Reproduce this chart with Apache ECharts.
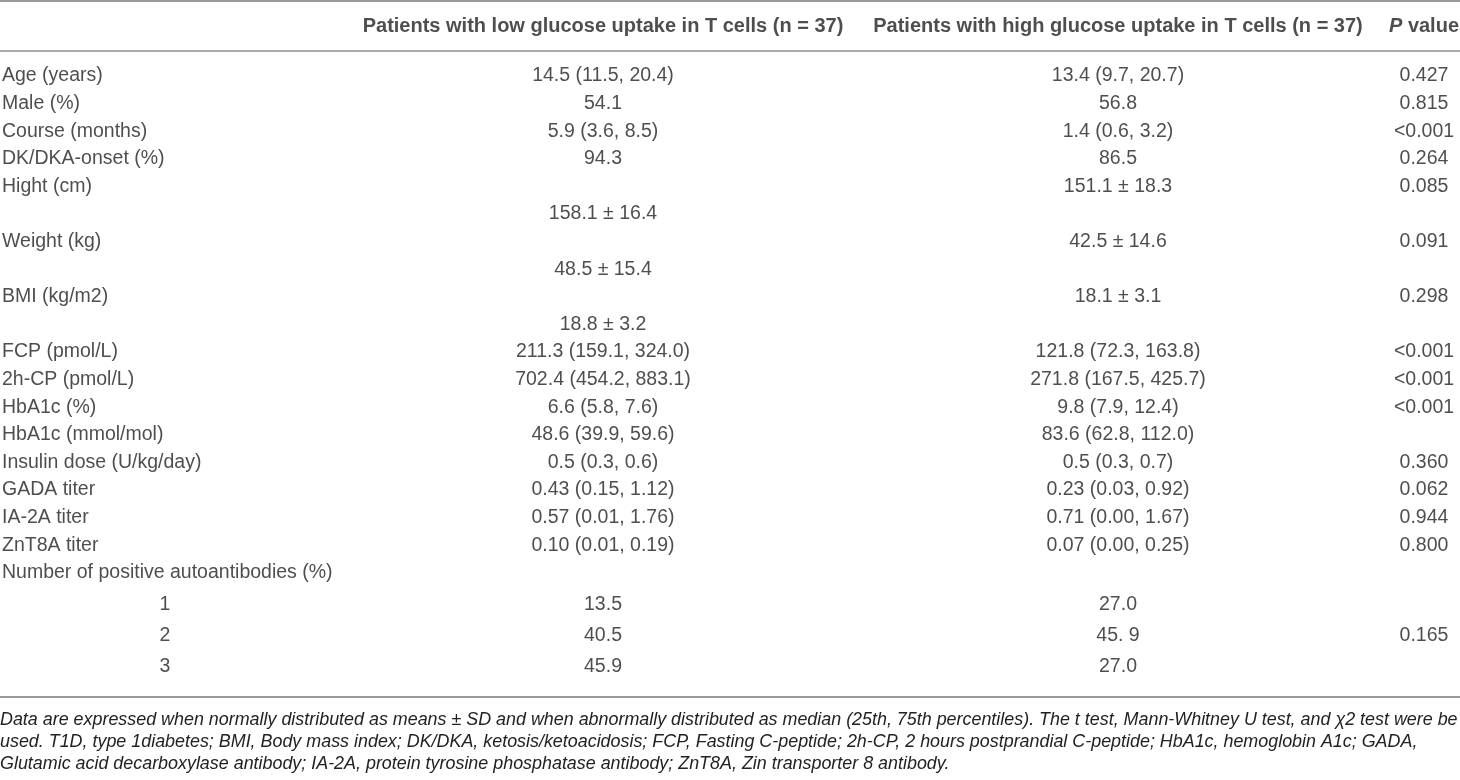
<!DOCTYPE html>
<html>
<head>
<meta charset="utf-8">
<script src="https://cdn.jsdelivr.net/npm/echarts@6/dist/echarts.min.js"></script>
<style>
html,body{margin:0;padding:0;background:#fff;}
#chart{width:1460px;height:780px;}
</style>
</head>
<body>
<div id="chart"></div>
<script>
// ---------- DATA ----------
const headers = ['Patients with low glucose uptake in T cells (n = 37)', 'Patients with high glucose uptake in T cells (n = 37)', 'P value'];
const rowLabels = ['Age (years)', 'Male (%)', 'Course (months)', 'DK/DKA-onset (%)', 'Hight (cm)', '', 'Weight (kg)', '', 'BMI (kg/m2)', '', 'FCP (pmol/L)', '2h-CP (pmol/L)', 'HbA1c (%)', 'HbA1c (mmol/mol)', 'Insulin dose (U/kg/day)', 'GADA titer', 'IA-2A titer', 'ZnT8A titer', 'Number of positive autoantibodies (%)'];
const lowValues = ['14.5 (11.5, 20.4)', '54.1', '5.9 (3.6, 8.5)', '94.3', '', '158.1 ± 16.4', '', '48.5 ± 15.4', '', '18.8 ± 3.2', '211.3 (159.1, 324.0)', '702.4 (454.2, 883.1)', '6.6 (5.8, 7.6)', '48.6 (39.9, 59.6)', '0.5 (0.3, 0.6)', '0.43 (0.15, 1.12)', '0.57 (0.01, 1.76)', '0.10 (0.01, 0.19)', ''];
const highValues = ['13.4 (9.7, 20.7)', '56.8', '1.4 (0.6, 3.2)', '86.5', '151.1 ± 18.3', '', '42.5 ± 14.6', '', '18.1 ± 3.1', '', '121.8 (72.3, 163.8)', '271.8 (167.5, 425.7)', '9.8 (7.9, 12.4)', '83.6 (62.8, 112.0)', '0.5 (0.3, 0.7)', '0.23 (0.03, 0.92)', '0.71 (0.00, 1.67)', '0.07 (0.00, 0.25)', ''];
const pValues = ['0.427', '0.815', '<0.001', '0.264', '0.085', '', '0.091', '', '0.298', '', '<0.001', '<0.001', '<0.001', '', '0.360', '0.062', '0.944', '0.800', ''];
const subLabels = ['1', '2', '3'];
const subLow = ['13.5', '40.5', '45.9'];
const subHigh = ['27.0', '45. 9', '27.0'];
const subP = ['', '0.165', ''];
const footnote = [
  'Data are expressed when normally distributed as means ± SD and when abnormally distributed as median (25th, 75th percentiles). The t test, Mann-Whitney U test, and χ2 test were be',
  'used. T1D, type 1diabetes; BMI, Body mass index; DK/DKA, ketosis/ketoacidosis; FCP, Fasting C-peptide; 2h-CP, 2 hours postprandial C-peptide; HbA1c, hemoglobin A1c; GADA,',
  'Glutamic acid decarboxylase antibody; IA-2A, protein tyrosine phosphatase antibody; ZnT8A, Zin transporter 8 antibody.'
];

// ---------- LAYOUT (column anchors on a hidden 0..1460 axis) ----------
const COL = { label: 2, sub: 165, low: 603, high: 1118, p: 1424 };
const FONT = '"Liberation Sans", Arial, Helvetica, sans-serif';
const TXT = '#222';
const RULE = '#9a9a9a';

const chart = echarts.init(document.getElementById('chart'), null, { renderer: 'canvas' });

function hiddenX(gridIndex, extra) {
  return Object.assign({
    type: 'value', gridIndex, min: 0, max: 1460,
    axisLabel: { show: false }, axisTick: { show: false }, splitLine: { show: false },
    axisLine: { show: false }
  }, extra || {});
}
function catY(gridIndex, n) {
  return {
    type: 'category', gridIndex, inverse: true,
    data: Array.from({ length: n }, (_, i) => i),
    axisLabel: { show: false }, axisTick: { show: false }, axisLine: { show: false }, splitLine: { show: false }
  };
}
function textSeries(xAxisIndex, yAxisIndex, x, arr, opts) {
  opts = opts || {};
  return {
    type: 'scatter', xAxisIndex, yAxisIndex, symbolSize: 0, silent: true,
    data: arr.map((t, i) => [x, i, t]).filter(d => d[2] !== ''),
    label: {
      show: true, position: 'inside', align: opts.align || 'center', verticalAlign: 'middle',
      formatter: p => opts.rich ? opts.rich(p.value[2]) : p.value[2],
      color: TXT, fontFamily: FONT, fontSize: opts.size || 19.5,
      fontWeight: opts.weight || 'normal',
      rich: opts.richStyle
    },
    emphasis: { disabled: true }
  };
}

const option = {
  animation: false,
  backgroundColor: '#fff',
  title: {
    text: footnote.join('\n'),
    left: 0, top: 709, padding: 0,
    textStyle: { fontFamily: FONT, fontSize: 17.9, fontStyle: 'italic', fontWeight: 'normal', color: TXT, lineHeight: 22 }
  },
  grid: [
    { left: 0, right: 0, top: 1, height: 50 },
    { left: 0, right: 0, top: 62.2, height: 524.4 },
    { left: 0, right: 0, top: 589.5, height: 93 }
  ],
  xAxis: [
    hiddenX(0, { position: 'top', axisLine: { show: true, lineStyle: { color: RULE, width: 2 } } }),
    hiddenX(0, { position: 'bottom', axisLine: { show: true, lineStyle: { color: '#aaa', width: 2 } } }),
    hiddenX(1),
    hiddenX(2, { position: 'bottom', offset: 14.5, axisLine: { show: true, lineStyle: { color: RULE, width: 2 } } })
  ],
  yAxis: [catY(0, 1), catY(1, rowLabels.length), catY(2, subLabels.length)],
  series: [
    textSeries(0, 0, COL.low, [headers[0]], { size: 20, weight: 'bold' }),
    textSeries(0, 0, COL.high, [headers[1]], { size: 20, weight: 'bold' }),
    textSeries(0, 0, COL.p, [headers[2]], {
      size: 20, weight: 'bold',
      rich: t => '{i|P}{b|' + t.slice(1) + '}',
      richStyle: {
        i: { fontStyle: 'italic', fontWeight: 'bold', fontSize: 20, fontFamily: FONT, color: TXT },
        b: { fontWeight: 'bold', fontSize: 20, fontFamily: FONT, color: TXT }
      }
    }),
    textSeries(2, 1, COL.label, rowLabels, { align: 'left' }),
    textSeries(2, 1, COL.low, lowValues),
    textSeries(2, 1, COL.high, highValues),
    textSeries(2, 1, COL.p, pValues),
    textSeries(3, 2, COL.sub, subLabels),
    textSeries(3, 2, COL.low, subLow),
    textSeries(3, 2, COL.high, subHigh),
    textSeries(3, 2, COL.p, subP)
  ]
};
chart.setOption(option);
</script>
</body>
</html>
